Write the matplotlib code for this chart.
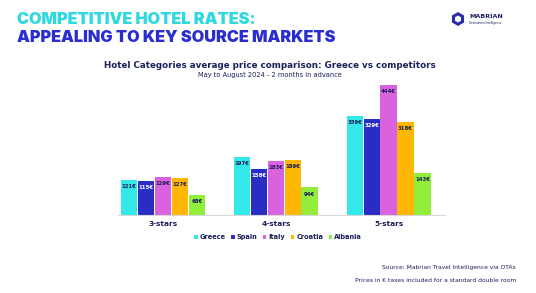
import matplotlib
matplotlib.use("Agg")
import matplotlib.pyplot as plt
import numpy as np
from matplotlib.patches import RegularPolygon

categories = ["3-stars", "4-stars", "5-stars"]
countries = ["Greece", "Spain", "Italy", "Croatia", "Albania"]
greece = [121, 197, 339]
spain = [115, 158, 329]
italy = [129, 183, 444]
croatia = [127, 189, 318]
albania = [68, 94, 143]
series = [greece, spain, italy, croatia, albania]
colors = ["#33E8E8", "#2A2DC4", "#D962DE", "#FFB703", "#93EE3C"]
label_colors = ["#1B1F5C", "white", "#1B1F5C", "#1B1F5C", "#1B1F5C"]

W, H = 536, 293
fig = plt.figure(figsize=(W / 100, H / 100), dpi=100)
fig.patch.set_facecolor("white")

bg = fig.add_axes([0, 0, 1, 1], zorder=-1)
bg.set_xlim(0, W)
bg.set_ylim(H, 0)
bg.axis("off")

# axes: baseline at y=215, 444 reaches y=85
ax = fig.add_axes([118 / W, (H - 215) / H, (445 - 118) / W, (215 - 80) / H])
ymax = 444 * (215 - 80) / (215 - 85)
ax.set_ylim(0, ymax)
ax.set_xlim(-0.40, 2.50)
bw = 0.15
x = np.arange(len(categories))
for i, (vals, c, lc) in enumerate(zip(series, colors, label_colors)):
    pos = x + (i - 2) * bw
    ax.bar(pos, vals, width=bw * 0.97, color=c, label=countries[i], zorder=2)
    for p, v in zip(pos, vals):
        ax.text(p, v - ymax * 0.03, f"{v}€", ha="center", va="top",
                fontsize=3.9, fontweight="bold", color=lc, zorder=3)
for s in ["top", "right", "left"]:
    ax.spines[s].set_visible(False)
ax.spines["bottom"].set_color("#D8D8D8")
ax.set_yticks([])
ax.set_xticks(x)
ax.set_xticklabels(categories, fontsize=5.3, fontweight="bold", color="#1B1F5C")
ax.tick_params(axis="x", length=0, pad=4)
ax.patch.set_alpha(0)

leg = fig.legend(loc="center", bbox_to_anchor=(278 / W, 1 - 237 / H), ncol=5,
                 frameon=False, fontsize=4.8, handlelength=0.55, handleheight=0.55,
                 handletextpad=0.3, columnspacing=0.8)
for t in leg.get_texts():
    t.set_color("#1B1F5C")
    t.set_fontweight("bold")

# Titles
fig.text(17 / W, 1 - 20 / H, "COMPETITIVE HOTEL RATES:", fontsize=11.7,
         fontweight=900, color="#2ED8E0", va="center", ha="left", family="Inter")
fig.text(17 / W, 1 - 37 / H, "APPEALING TO KEY SOURCE MARKETS", fontsize=11.7,
         fontweight=900, color="#2A2ED0", va="center", ha="left", family="Inter")

fig.text(270 / W, 1 - 65 / H, "Hotel Categories average price comparison: Greece vs competitors",
         fontsize=6.3, fontweight="bold", color="#1B1F5C", ha="center", va="center")
fig.text(270 / W, 1 - 74.5 / H, "May to August 2024 - 2 months in advance",
         fontsize=4.8, color="#1B1F5C", ha="center", va="center")

fig.text(516 / W, 1 - 268 / H, "Source: Mabrian Travel Intelligence via OTAs",
         fontsize=4.3, color="#1B1F5C", ha="right", va="center")
fig.text(516 / W, 1 - 281 / H, "Prices in € taxes included for a standard double room",
         fontsize=4.3, color="#1B1F5C", ha="right", va="center")

# Logo
bg.add_patch(RegularPolygon((458, 19), 6, radius=7, orientation=0,
                            facecolor="#2A2DA8", edgecolor="none"))
bg.add_patch(RegularPolygon((458, 19), 6, radius=3.5, orientation=0,
                            facecolor="white", edgecolor="none"))
fig.text(469 / W, 1 - 17 / H, "MABRIAN", fontsize=4.6, color="#1B1F5C",
         ha="left", va="center", fontweight="bold")
fig.text(469 / W, 1 - 23 / H, "Destination Intelligence", fontsize=2, color="#1B1F5C",
         ha="left", va="center")

fig.savefig("out.png", dpi=100, facecolor="white")
